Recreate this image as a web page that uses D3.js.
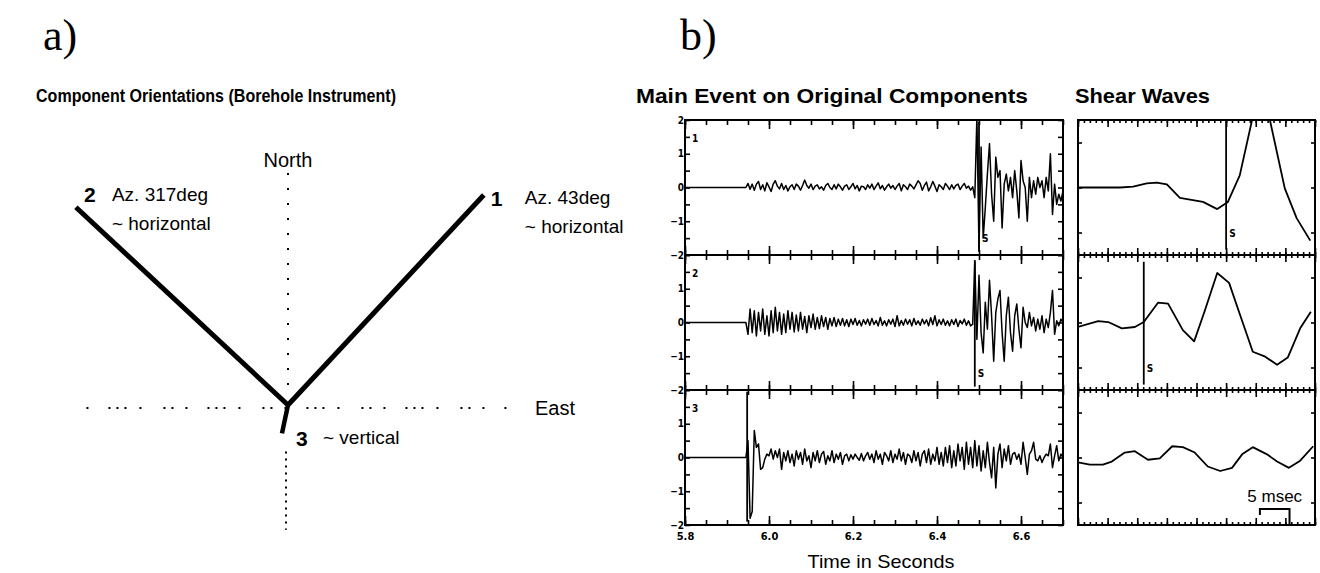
<!DOCTYPE html>
<html>
<head>
<meta charset="utf-8">
<script src="https://cdn.jsdelivr.net/npm/d3@7"></script>
<style>
	body { margin: 0; background: #fff; }
	svg { display: block; }
</style>
</head>
<body>
<div id="chart"></div>
<script>
//data
const components = ['1', '2', '3'];
const drawnAzimuth = [43, 313, 192];
const drawnLength = [0.99, 1.0, 0.1];
const componentNotes = [['Az. 43deg', '~ horizontal'], ['Az. 317deg', '~ horizontal'], ['~ vertical']];

const timeTicks = [5.8, 6.0, 6.2, 6.4, 6.6];
const ampTicks = [-2, -1, 0, 1, 2];
const traceStart = 5.945;
const sampleStep = 0.005;

const trace1 = [
	0.0, 0.12, -0.05, 0.1, -0.08, 0.1, 0.18, -0.06, 0.08, -0.1,
	0.14, 0.02, -0.12, 0.1, 0.2, 0.04, -0.04, 0.12, -0.06, 0.06,
	-0.1, 0.02, 0.08, -0.06, 0.1, 0.04, -0.08, 0.06, 0.22, 0.06,
	-0.02, 0.1, -0.06, 0.04, 0.08, -0.04, 0.02, -0.08, 0.06, 0.12,
	0.0, -0.06, 0.08, -0.04, 0.1, 0.02, -0.08, 0.04, 0.08, -0.06,
	0.02, 0.12, -0.04, 0.06, -0.1, 0.04, 0.02, -0.06, 0.08, -0.02,
	0.1, -0.06, 0.04, 0.14, -0.04, 0.06, -0.08, 0.02, 0.1, -0.02,
	0.06, -0.06, 0.04, 0.12, -0.1, 0.08, 0.02, -0.06, 0.1, 0.04,
	-0.04, 0.08, 0.2, 0.12, -0.08, 0.06, 0.16, -0.1, 0.02, 0.18,
	0.04, -0.12, 0.08, 0.02, -0.06, 0.12, 0.04, -0.06, 0.08, -0.04,
	0.06, 0.1, -0.06, 0.04, 0.12, -0.02, 0.04, -0.08, 0.02, -0.3,
	2.1, -1.85, 1.2, -1.5, -0.6, 0.4, 1.3, -0.2, -1.0, 0.9,
	0.3, 0.5, -1.2, 0.1, 0.4, -0.1, 0.3, -0.3, 0.5, -0.1,
	-0.9, 0.8, 0.2, 0.0, -1.0, 0.3, -0.3, 0.2, -0.2, 0.3,
	0.0, 0.2, -0.3, 0.3, -0.1, 1.0, -0.8, 0.1, -0.5, -0.2,
	-0.4, -0.1
];

const trace2 = [
	0.0, -0.35, 0.4, -0.3, 0.35, -0.4, 0.3, -0.25, 0.4, -0.35,
	0.2, -0.4, 0.35, -0.3, 0.45, -0.25, 0.3, -0.35, 0.25, -0.3,
	0.35, -0.2, 0.3, -0.28, 0.22, -0.25, 0.3, -0.2, 0.18, -0.3,
	0.2, -0.15, 0.25, -0.2, 0.15, -0.18, 0.2, -0.12, 0.15, -0.2,
	0.12, -0.1, 0.15, -0.12, 0.1, -0.08, 0.12, -0.1, 0.08, -0.12,
	0.1, -0.06, 0.12, -0.08, 0.06, -0.1, 0.08, -0.05, 0.1, -0.08,
	0.12, -0.06, 0.06, -0.1, 0.15, -0.08, 0.05, -0.1, 0.08, -0.05,
	0.1, -0.12, 0.2, -0.1, 0.06, -0.08, 0.1, -0.05, 0.08, -0.1,
	0.12, -0.06, 0.05, -0.08, 0.1, -0.04, 0.08, -0.1, 0.14, -0.06,
	0.2, -0.1, 0.08, -0.06, 0.1, -0.08, 0.05, -0.1, 0.08, -0.06,
	0.1, -0.12, 0.06, -0.04, 0.1, -0.08, 0.05, -0.1, -0.05, 1.8,
	-0.5, 1.4, -0.3, -0.9, 0.6, -0.2, 1.25, 0.2, -1.15, 0.3,
	0.7, 0.95, -0.3, -1.15, 0.2, 0.75, -0.3, -0.85, 0.2, 0.55,
	-0.2, -0.75, 0.45, 0.0, -0.15, 0.3, -0.1, 0.15, -0.25, 0.1,
	-0.2, 0.2, -0.3, 0.1, -0.15, 0.3, 0.95, -0.35, 0.05, -0.1,
	0.1, 0.0
];

const trace3 = [
	0.0, 0.5, -1.8, -1.6, 0.8, 0.3, 0.4, -0.35, -0.3, -0.05,
	0.1, 0.05, 0.25, -0.05, 0.2, 0.0, 0.25, -0.35, 0.15, -0.1,
	0.2, -0.15, 0.1, -0.25, 0.2, -0.05, 0.15, -0.2, 0.25, -0.1,
	0.05, -0.3, 0.15, -0.1, 0.2, -0.15, 0.1, 0.18, -0.2, 0.05,
	-0.1, 0.2, -0.15, 0.1, -0.05, 0.15, -0.2, 0.05, 0.1, -0.1,
	0.08, -0.05, 0.1, 0.0, -0.08, 0.12, -0.1, 0.05, 0.15, -0.05,
	0.1, -0.15, 0.2, -0.05, 0.1, -0.2, 0.15, 0.05, -0.1, 0.2,
	-0.15, 0.1, -0.05, 0.25, -0.1, 0.15, -0.2, 0.1, 0.05, -0.15,
	0.2, -0.1, 0.15, -0.25, 0.1, 0.2, -0.15, 0.25, -0.2, 0.1,
	-0.1, 0.3, -0.2, 0.15, -0.25, 0.3, -0.15, 0.35, -0.3, 0.2,
	-0.25, 0.4, -0.1, 0.3, -0.35, 0.45, -0.2, 0.3, -0.3, 0.5,
	-0.25, 0.35, -0.4, 0.2, -0.3, 0.45, -0.15, -0.6, 0.3, -0.9,
	0.1, 0.4, -0.3, 0.25, -0.1, 0.35, -0.2, 0.1, 0.15, -0.05,
	0.1, -0.2, 0.45, 0.0, -0.5, 0.1, 0.2, 0.45, -0.05, -0.1,
	0.05, -0.15, 0.0, 0.1, 0.05, 0.4, -0.3, 0.05, 0.35, -0.1,
	0.1, 0.0
];

const phasePicks = [6.5, 6.49, 5.948];
const phaseNames = ['S', 'S', ''];

// shear wave windows, time in msec
const shearTime1 = [0, 7.1, 9.3, 11.6, 13.3, 15.0, 17.2, 18.9, 21.1, 23.5, 25.3, 27.3, 30.9, 34.9, 36.9, 39.2];
const shearAmp1 = [0, 0, 0.02, 0.09, 0.11, 0.07, -0.23, -0.27, -0.32, -0.48, -0.32, 0.27, 2.4, -0.02, -0.68, -1.18];
const shearTime2 = [0, 3.4, 5.1, 7.4, 9.6, 11.1, 13.5, 15.2, 17.7, 19.6, 21.4, 23.5, 25.5, 27.3, 29.5, 31.6, 33.6, 35.4, 37.5, 39.3];
const shearAmp2 = [-0.1, 0.03, 0.01, -0.13, -0.1, 0.01, 0.44, 0.42, -0.17, -0.42, 0.26, 1.1, 0.88, 0.19, -0.65, -0.76, -0.94, -0.78, -0.13, 0.24];
const shearTime3 = [0, 2.0, 4.2, 5.7, 7.9, 9.6, 11.8, 13.8, 15.9, 17.7, 19.7, 21.9, 24.0, 26.0, 27.7, 29.5, 31.9, 33.6, 35.6, 37.5, 39.7];
const shearAmp3 = [-0.11, -0.16, -0.16, -0.09, 0.11, 0.14, -0.05, -0.02, 0.25, 0.23, 0.11, -0.2, -0.3, -0.23, 0.07, 0.23, 0.07, -0.09, -0.23, -0.07, 0.25];
const shearPicks = [25.0, 11.1, null];
const scaleBar = [30.7, 35.7];

const traces = [trace1, trace2, trace3];
const shearTimes = [shearTime1, shearTime2, shearTime3];
const shearAmps = [shearAmp1, shearAmp2, shearAmp3];

const sans = "'Liberation Sans', Arial, sans-serif";
const narrow = "'Liberation Sans Narrow', 'DejaVu Sans Condensed', sans-serif";

render();

function render() {
	const svg = d3
		.select('#chart')
		.append('svg')
		.attr('width', 1320)
		.attr('height', 573);

	// panel letters and titles
	svg.append('text')
		.attr('x', 43).attr('y', 50)
		.style('font-family', "'Liberation Serif', serif")
		.style('font-size', '44px')
		.text('a)');
	svg.append('text')
		.attr('x', 680).attr('y', 50)
		.style('font-family', "'Liberation Serif', serif")
		.style('font-size', '44px')
		.text('b)');

	const titles = [
		{ x: 36, y: 102, size: 18, w: 360, text: 'Component Orientations (Borehole Instrument)' },
		{ x: 636, y: 103, size: 21, w: 392, text: 'Main Event on Original Components' },
		{ x: 1075, y: 103, size: 21, w: 135, text: 'Shear Waves' },
	];
	svg.selectAll('.title')
		.data(titles)
		.enter()
		.append('text')
		.attr('class', 'title')
		.attr('x', (d) => d.x)
		.attr('y', (d) => d.y)
		.attr('textLength', (d) => d.w)
		.attr('lengthAdjust', 'spacingAndGlyphs')
		.style('font-family', sans)
		.style('font-weight', 'bold')
		.style('font-size', (d) => d.size + 'px')
		.text((d) => d.text);

	drawOrientation(svg.append('g'));
	drawSeismograms(svg.append('g'));
}

function drawOrientation(g) {
	const cx = 288, cy = 405, R = 290;
	const east = d3.scaleLinear().domain([-1, 1]).range([cx - R, cx + R]);
	const north = d3.scaleLinear().domain([-1, 1]).range([cy + R, cy - R]);

	//dotted guides
	g.append('line')
		.attr('x1', east(0)).attr('x2', east(0))
		.attr('y1', north(0.8)).attr('y2', north(0.03))
		.style('stroke', '#000').style('stroke-width', 2)
		.style('stroke-dasharray', '2,13');
	g.append('line')
		.attr('x1', east(0) - 2).attr('x2', east(0) - 2)
		.attr('y1', north(-0.16)).attr('y2', north(-0.43))
		.style('stroke', '#000').style('stroke-width', 2)
		.style('stroke-dasharray', '2,5');
	g.append('line')
		.attr('x1', east(-0.695)).attr('x2', east(0.76))
		.attr('y1', north(0) + 3).attr('y2', north(0) + 3)
		.style('stroke', '#000').style('stroke-width', 2)
		.style('stroke-dasharray', '2,20,2,6,2,6,2,13,2,22,2,6,2,12');

	g.append('text')
		.attr('x', east(0)).attr('y', 167)
		.attr('text-anchor', 'middle')
		.style('font-family', sans).style('font-size', '20px')
		.text('North');
	g.append('text')
		.attr('x', 535).attr('y', 415)
		.style('font-family', sans).style('font-size', '20px')
		.text('East');

	const comps = components.map((c, i) => {
		const a = (drawnAzimuth[i] * Math.PI) / 180;
		return {
			id: c,
			x2: east(drawnLength[i] * Math.sin(a)),
			y2: north(drawnLength[i] * Math.cos(a)),
			notes: componentNotes[i],
		};
	});

	g.selectAll('.comp')
		.data(comps)
		.enter()
		.append('line')
		.attr('class', 'comp')
		.attr('x1', east(0)).attr('y1', north(0))
		.attr('x2', (d) => d.x2).attr('y2', (d) => d.y2)
		.style('stroke', '#000')
		.style('stroke-width', (d, i) => (i === 2 ? 4.5 : 5));

	// label offsets from each line end
	const numOff = [[7, 11], [8, -5], [14, 13]];
	const noteOff = [[41, 9], [36, -6], [41, 11]];

	g.selectAll('.comp-id')
		.data(comps)
		.enter()
		.append('text')
		.attr('class', 'comp-id')
		.attr('x', (d, i) => d.x2 + numOff[i][0])
		.attr('y', (d, i) => d.y2 + numOff[i][1])
		.style('font-family', sans).style('font-weight', 'bold').style('font-size', '21px')
		.text((d) => d.id);

	comps.forEach((d, i) => {
		d.notes.forEach((n, k) => {
			g.append('text')
				.attr('x', d.x2 + noteOff[i][0])
				.attr('y', d.y2 + noteOff[i][1] + k * 29)
				.style('font-family', sans).style('font-size', '19px')
				.text(n);
		});
	});
}

function drawSeismograms(g) {
	const mainX = d3.scaleLinear().domain([5.8, 6.7]).range([685, 1063]);
	const shearX = d3.scaleLinear().domain([0, 40]).range([1078, 1315]);
	const bandTop = 120, bandH = 135;

	const minorTime = d3.range(0, 19).map((k) => 5.8 + k * 0.05);
	const halfAmp = d3.range(-4, 5).map((k) => k / 2);
	const msTicks = d3.range(0, 41);
	const msMajor = d3.range(0, 41, 5);

	const line = d3.line().x((d) => d[0]).y((d) => d[1]);

	components.forEach((c, i) => {
		const top = bandTop + i * bandH;
		const y = d3.scaleLinear().domain([-2, 2]).range([top + bandH, top]);
		const ys = d3.scaleLinear().domain([-1.5, 1.5]).range([top + bandH, top]);

		// --- main event panel
		const p = g.append('g');
		p.append('clipPath').attr('id', 'clipm' + i)
			.append('rect')
			.attr('x', mainX.range()[0]).attr('y', top)
			.attr('width', mainX.range()[1] - mainX.range()[0]).attr('height', bandH);

		const pts = [[mainX(5.8), y(0)]].concat(
			traces[i].map((v, k) => [mainX(traceStart + k * sampleStep), y(v)])
		);
		p.append('path')
			.attr('d', line(pts))
			.attr('clip-path', 'url(#clipm' + i + ')')
			.style('fill', 'none').style('stroke', '#000')
			.style('stroke-width', 1.5).style('stroke-linejoin', 'round');

		// phase pick
		const px = mainX(phasePicks[i]);
		p.append('line')
			.attr('x1', px).attr('x2', px)
			.attr('y1', y(i === 1 ? 1.85 : 1.95)).attr('y2', y(-1.9))
			.style('stroke', '#000').style('stroke-width', 1.8);
		p.append('text')
			.attr('x', px + 3).attr('y', y(-1.6))
			.style('font-family', narrow).style('font-weight', 'bold').style('font-size', '10px')
			.text(phaseNames[i]);

		p.append('text')
			.attr('x', 692).attr('y', top + 22)
			.style('font-family', narrow).style('font-weight', 'bold').style('font-size', '10px')
			.text(c);

		p.append('rect')
			.attr('x', mainX.range()[0]).attr('y', top)
			.attr('width', mainX.range()[1] - mainX.range()[0]).attr('height', bandH)
			.style('fill', 'none').style('stroke', '#000').style('stroke-width', 2);

		tickAxis(p, d3.axisTop(mainX), minorTime, 5, translation(0, top));
		tickAxis(p, d3.axisTop(mainX), timeTicks, 9, translation(0, top));
		tickAxis(p, d3.axisBottom(mainX), minorTime, 5, translation(0, top + bandH));
		tickAxis(p, d3.axisBottom(mainX), timeTicks, 9, translation(0, top + bandH));
		tickAxis(p, d3.axisLeft(y), halfAmp, 5, translation(mainX.range()[0], 0));
		tickAxis(p, d3.axisRight(y), halfAmp, 5, translation(mainX.range()[1], 0));

		// the top "2" of lower panels coincides with the "-2" above it
		const labelValues = i === 0 ? ampTicks : ampTicks.filter((v) => v < 2);
		const yl = p.append('g')
			.attr('transform', translation(mainX.range()[0] + 1, 0))
			.call(d3.axisLeft(y).tickValues(labelValues).tickSize(0).tickPadding(2).tickFormat(d3.format('d')));
		styleLabels(yl, '10px');

		if (i === 2) {
			const xl = p.append('g')
				.attr('transform', translation(0, top + bandH + 3))
				.call(d3.axisBottom(mainX).tickValues(timeTicks).tickSize(0).tickPadding(4).tickFormat(d3.format('.1f')));
			styleLabels(xl, '11px');
			p.append('text')
				.attr('x', 881)
				.attr('y', 568)
				.attr('text-anchor', 'middle')
				.attr('textLength', 147)
				.attr('lengthAdjust', 'spacingAndGlyphs')
				.style('font-family', sans).style('font-size', '19px')
				.text('Time in Seconds');
		}

		// --- shear wave panel
		const s = g.append('g');
		s.append('clipPath').attr('id', 'clips' + i)
			.append('rect')
			.attr('x', shearX.range()[0]).attr('y', top)
			.attr('width', shearX.range()[1] - shearX.range()[0]).attr('height', bandH);

		const spts = shearTimes[i].map((t, k) => [shearX(t), ys(shearAmps[i][k])]);
		s.append('path')
			.attr('d', line(spts))
			.attr('clip-path', 'url(#clips' + i + ')')
			.style('fill', 'none').style('stroke', '#000')
			.style('stroke-width', 1.8).style('stroke-linejoin', 'round');

		if (shearPicks[i] !== null) {
			const sx = shearX(shearPicks[i]);
			s.append('line')
				.attr('x1', sx).attr('x2', sx)
				.attr('y1', ys(i === 1 ? 1.35 : 1.5)).attr('y2', ys(-1.38))
				.style('stroke', '#000').style('stroke-width', 1.8);
			s.append('text')
				.attr('x', sx + 3).attr('y', ys(-1.1))
				.style('font-family', narrow).style('font-weight', 'bold').style('font-size', '10px')
				.text('S');
		}

		s.append('rect')
			.attr('x', shearX.range()[0]).attr('y', top)
			.attr('width', shearX.range()[1] - shearX.range()[0]).attr('height', bandH)
			.style('fill', 'none').style('stroke', '#000').style('stroke-width', 2);

		tickAxis(s, d3.axisTop(shearX), msTicks, 3, translation(0, top));
		tickAxis(s, d3.axisTop(shearX), msMajor, 7, translation(0, top));
		tickAxis(s, d3.axisBottom(shearX), msTicks, 3, translation(0, top + bandH));
		tickAxis(s, d3.axisBottom(shearX), msMajor, 7, translation(0, top + bandH));
		tickAxis(s, d3.axisLeft(ys), [-1, 0, 1], 4, translation(shearX.range()[0], 0));
		tickAxis(s, d3.axisRight(ys), [-1, 0, 1], 4, translation(shearX.range()[1], 0));

		if (i === 2) {
			const barY = top + bandH - 16;
			s.append('path')
				.attr('d', line([
					[shearX(scaleBar[0]), barY + 6],
					[shearX(scaleBar[0]), barY],
					[shearX(scaleBar[1]), barY],
					[shearX(scaleBar[1]), top + bandH],
				]))
				.style('fill', 'none').style('stroke', '#000').style('stroke-width', 2);
			s.append('text')
				.attr('x', (shearX(scaleBar[0]) + shearX(scaleBar[1])) / 2)
				.attr('y', barY - 7)
				.attr('text-anchor', 'middle')
				.style('font-family', sans).style('font-size', '17px')
				.text('5 msec');
		}
	});
}

// inward ticks without labels or domain line
function tickAxis(parent, axis, values, size, transform) {
	parent.append('g')
		.attr('transform', transform)
		.call(axis.tickValues(values).tickSize(-size).tickFormat(''))
		.call((a) => a.select('.domain').remove())
		.call((a) => a.selectAll('line').style('stroke', '#000').style('stroke-width', 1.6));
}

function styleLabels(a, size) {
	a.select('.domain').remove();
	a.selectAll('text')
		.style('font-family', narrow)
		.style('font-weight', 'bold')
		.style('font-size', size)
		.style('fill', '#000');
}

//utils
function translation(x, y) {
	return `translate(${x}, ${y})`;
}
</script>
</body>
</html>
